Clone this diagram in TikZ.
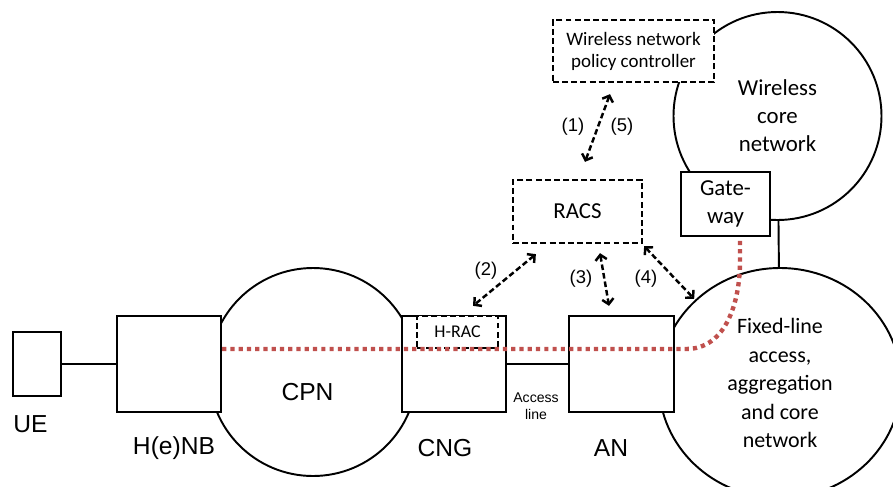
\documentclass[tikz,border=0pt]{standalone}
\usepackage{fontspec}
\setmainfont{Liberation Sans}
\newfontfamily\calibri{Carlito}
\usetikzlibrary{shapes.geometric,arrows.meta}
\definecolor{dslred}{RGB}{192,80,77}

\begin{document}
\begin{tikzpicture}[node distance=1cm,
  box/.style={draw, rectangle, line width=1.3pt, fill=white, inner sep=0pt},
  dbox/.style={draw, rectangle, line width=1.3pt, dash pattern=on 3.4pt off 1.8pt, fill=white, inner sep=0pt, align=center},
  net/.style={draw, circle, line width=1.1pt, inner sep=0pt, align=center},
  sig/.style={<->, >={Straight Barb[length=3pt,width=6.5pt]}, line width=1.4pt, dash pattern=on 3.2pt off 1.7pt},
  lbl/.style={font=\fontsize{14}{16}\selectfont},
  num/.style={font=\fontsize{10.5}{12}\selectfont}]
\useasboundingbox (0,0) rectangle (17.86,-9.72);

% networks
\node[net, minimum size=4.16cm] (cpn) at (6.26,-7.44) {};
\node[lbl, below of=cpn, yshift=0.6cm, xshift=-0.11cm] (cpnl) {CPN};
\node[net, ellipse, minimum width=4.84cm, minimum height=4.6cm, right of=cpn, xshift=8.34cm, yshift=-0.22cm, font=\calibri\fontsize{12.5}{16.2}\selectfont] (fixed) {Fixed-line\\access,\\aggregation\\and core\\network};
\node[net, minimum size=4.16cm, above of=fixed, yshift=4.34cm, xshift=-0.05cm, font=\calibri\fontsize{13}{15.9}\selectfont] (wcore) {Wireless\\core\\network};
\draw[line width=1.1pt] (wcore) -- (fixed);

% boxes
\node[box, minimum width=2.08cm, minimum height=1.92cm, left of=cpn, xshift=-1.88cm, yshift=0.16cm] (henb) {};
\node[box, minimum width=0.96cm, minimum height=1.28cm, left of=henb, xshift=-1.64cm] (ue) {};
\node[box, minimum width=2.08cm, minimum height=1.92cm, right of=cpn, xshift=1.82cm, yshift=0.16cm] (cng) {};
\node[box, minimum width=2.1cm, minimum height=1.92cm, right of=cng, xshift=2.35cm] (an) {};
\node[dbox, minimum width=1.62cm, minimum height=0.64cm, above of=cng, yshift=-0.36cm, xshift=0.07cm, font=\calibri\fontsize{10.2}{12}\selectfont] (hrac) {H-RAC};
\node[dbox, minimum width=2.58cm, minimum height=1.26cm, above of=an, yshift=2.05cm, xshift=-0.88cm, font=\calibri\fontsize{13}{15}\selectfont] (racs) {RACS};
\node[dbox, minimum width=3.22cm, minimum height=1.24cm, above of=racs, yshift=2.21cm, xshift=1.12cm, font=\calibri\fontsize{10.8}{12.5}\selectfont] (pol) {Wireless network\\policy controller};
\node[box, align=center, minimum width=1.78cm, minimum height=1.28cm, below of=wcore, yshift=-0.76cm, xshift=-1.04cm, font=\calibri\fontsize{13}{16}\selectfont] (gw) {Gate-\\way};

\draw[line width=1.3pt] (ue) -- (henb);
\draw[line width=1.3pt] (cng) -- (an);

% labels
\node[lbl, below of=ue, yshift=-0.2cm, xshift=-0.13cm] (uel) {UE};
\node[lbl, below of=henb, yshift=-0.68cm, xshift=0.1cm] (henbl) {H(e)NB};
\node[lbl, below of=cng, yshift=-0.68cm, xshift=-0.18cm] (cngl) {CNG};
\node[lbl, below of=an, yshift=-0.68cm, xshift=-0.21cm] (anl) {AN};
\node[align=center, font=\fontsize{8}{9.7}\selectfont, right of=cng, xshift=0.64cm, yshift=-0.84cm] (acl) {Access\\line};

% signalling
\node[num, above of=racs, yshift=0.69cm, xshift=-0.09cm] (n1) {(1)};
\node[num, above of=racs, yshift=0.69cm, xshift=0.89cm] (n5) {(5)};
\node[num, above of=hrac, yshift=0.22cm, xshift=0.57cm] (n2) {(2)};
\node[num, above of=an, yshift=0.7cm, xshift=-0.81cm] (n3) {(3)};
\node[num, above of=an, yshift=0.7cm, xshift=0.49cm] (n4) {(4)};
\draw[sig] ([xshift=-0.47cm, yshift=-0.22cm] pol.south) -- ([xshift=0.15cm, yshift=0.34cm] racs.north);
\draw[sig] ([xshift=0.48cm, yshift=-0.2cm] racs.south west) -- ([xshift=0.31cm, yshift=0.18cm] hrac.north);
\draw[sig] ([xshift=0.45cm, yshift=-0.18cm] racs.south) -- ([xshift=-0.25cm, yshift=0.18cm] an.north);
\draw[sig] ([xshift=0.02cm, yshift=-0.04cm] racs.south east) -- ([xshift=0.38cm, yshift=0.32cm] an.north east);

% data path
\draw[dslred, line width=2.5pt, dash pattern=on 2.4pt off 2.3pt] ([yshift=0.3cm] henb.east) -- ([xshift=0.22cm, yshift=0.3cm] an.east) to[out=0, in=-90] ([xshift=0.29cm, yshift=-0.48cm] gw.south) -- ([xshift=0.29cm] gw.south);
\end{tikzpicture}
\end{document}
